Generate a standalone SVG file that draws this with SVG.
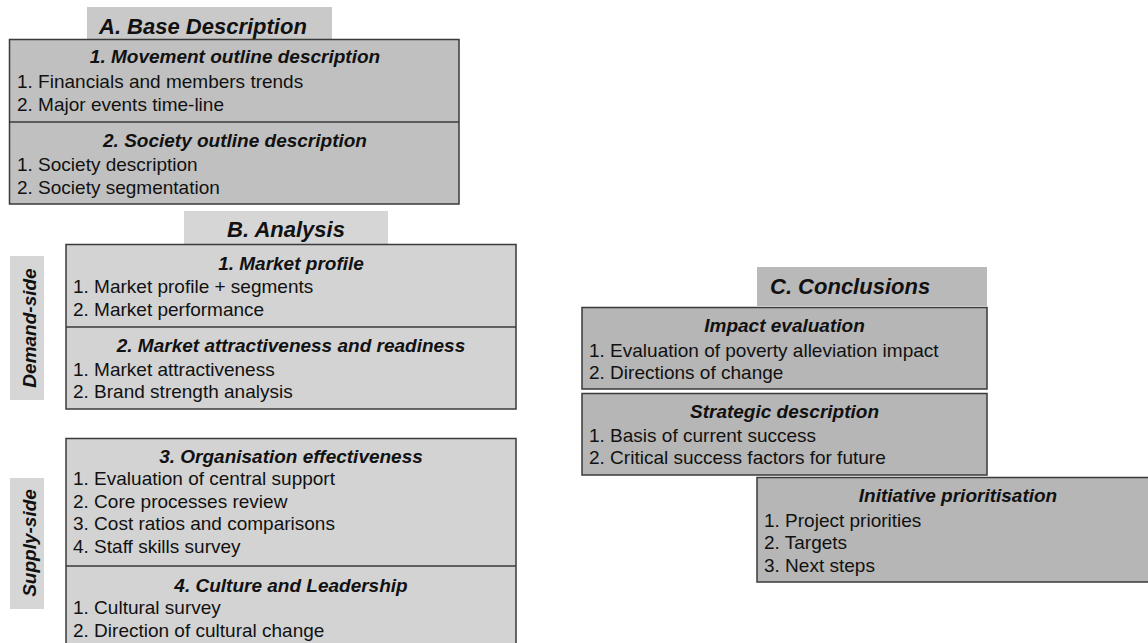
<svg xmlns="http://www.w3.org/2000/svg" width="1148" height="643" viewBox="0 0 1148 643">
<style>
text{font-family:"Liberation Sans",Arial,sans-serif;fill:#111;}
.h{font-size:22px;font-weight:bold;font-style:italic;}
.t{font-size:19px;font-weight:bold;font-style:italic;text-anchor:middle;}
.i{font-size:19px;}
.box{stroke:#3a3a3a;stroke-width:1.5;}
.div{stroke:#3a3a3a;stroke-width:1.5;}
.base{fill:#c0c0c0;}
.ana{fill:#d3d3d3;}
.con{fill:#b6b6b6;}
</style>
<rect width="1148" height="643" fill="#ffffff"/>

<g id="header-a">
<rect x="87" y="7" width="245" height="33" fill="#c9c9c9"/>
<text class="h" x="99" y="34">A. Base Description</text>
</g>

<g id="base-box">
<rect class="box base" x="9.5" y="39.5" width="449.5" height="164.5"/>
<line class="div" x1="9.5" y1="122" x2="459" y2="122"/>
<text class="t" x="235" y="63">1. Movement outline description</text>
<text class="i" x="17" y="88">1. Financials and members trends</text>
<text class="i" x="17" y="111">2. Major events time-line</text>
<text class="t" x="235" y="147">2. Society outline description</text>
<text class="i" x="17" y="171">1. Society description</text>
<text class="i" x="17" y="194">2. Society segmentation</text>
</g>

<g id="header-b">
<rect x="184" y="211" width="204" height="33" fill="#d6d6d6"/>
<text class="h" x="286" y="237" text-anchor="middle">B. Analysis</text>
</g>

<g id="demand-label">
<rect x="10" y="256" width="34" height="144" fill="#d6d6d6"/>
<text class="t" transform="translate(36,328) rotate(-90)" x="0" y="0">Demand-side</text>
</g>

<g id="analysis-demand">
<rect class="box ana" x="66" y="244.5" width="450" height="164.5"/>
<line class="div" x1="66" y1="327" x2="516" y2="327"/>
<text class="t" x="291" y="270">1. Market profile</text>
<text class="i" x="73" y="293">1. Market profile + segments</text>
<text class="i" x="73" y="316">2. Market performance</text>
<text class="t" x="291" y="352">2. Market attractiveness and readiness</text>
<text class="i" x="73" y="376">1. Market attractiveness</text>
<text class="i" x="73" y="398">2. Brand strength analysis</text>
</g>

<g id="supply-label">
<rect x="10" y="478" width="34" height="131" fill="#d6d6d6"/>
<text class="t" transform="translate(36,543) rotate(-90)" x="0" y="0">Supply-side</text>
</g>

<g id="analysis-supply">
<rect class="box ana" x="66" y="438.5" width="450" height="215"/>
<line class="div" x1="66" y1="566" x2="516" y2="566"/>
<text class="t" x="291" y="463">3. Organisation effectiveness</text>
<text class="i" x="73" y="485">1. Evaluation of central support</text>
<text class="i" x="73" y="508">2. Core processes review</text>
<text class="i" x="73" y="530">3. Cost ratios and comparisons</text>
<text class="i" x="73" y="553">4. Staff skills survey</text>
<text class="t" x="291" y="592">4. Culture and Leadership</text>
<text class="i" x="73" y="614">1. Cultural survey</text>
<text class="i" x="73" y="637">2. Direction of cultural change</text>
</g>

<g id="header-c">
<rect x="757" y="267" width="230" height="39" fill="#b9b9b9"/>
<text class="h" x="770" y="294">C. Conclusions</text>
</g>

<g id="impact">
<rect class="box con" x="582" y="307.5" width="405" height="81.5"/>
<text class="t" x="784.5" y="332">Impact evaluation</text>
<text class="i" x="589" y="357">1. Evaluation of poverty alleviation impact</text>
<text class="i" x="589" y="379">2. Directions of change</text>
</g>

<g id="strategic">
<rect class="box con" x="582" y="393.5" width="405" height="81.5"/>
<text class="t" x="784.5" y="418">Strategic description</text>
<text class="i" x="589" y="442">1. Basis of current success</text>
<text class="i" x="589" y="464">2. Critical success factors for future</text>
</g>

<g id="initiative">
<rect class="box con" x="757" y="477.5" width="403" height="104.5"/>
<text class="t" x="958" y="502">Initiative prioritisation</text>
<text class="i" x="764" y="527">1. Project priorities</text>
<text class="i" x="764" y="549">2. Targets</text>
<text class="i" x="764" y="572">3. Next steps</text>
</g>

<g id="connectors"></g>
</svg>
